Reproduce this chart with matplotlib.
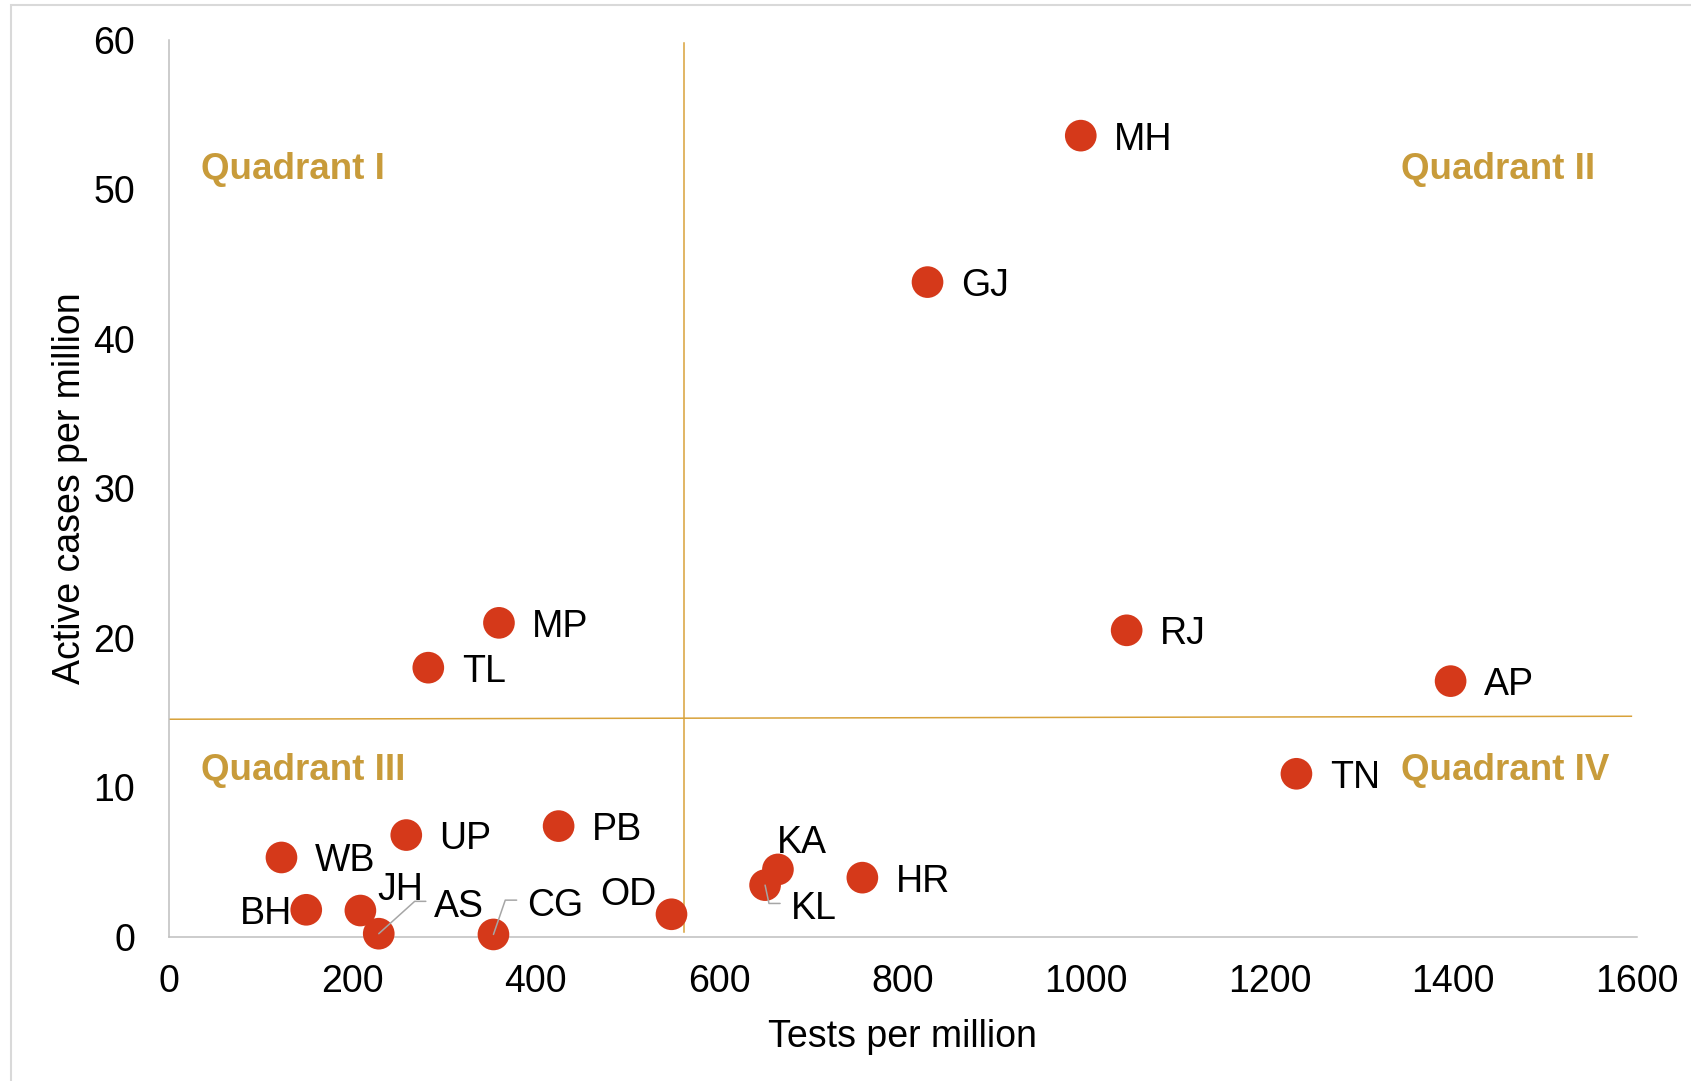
import matplotlib
matplotlib.use("Agg")
import matplotlib.pyplot as plt
from matplotlib.patches import Rectangle

plt.rcParams['font.family'] = ['Liberation Sans', 'DejaVu Sans']

# data
states = ["MH", "GJ", "RJ", "AP", "TN", "MP", "TL", "PB", "UP", "WB",
          "BH", "JH", "AS", "CG", "OD", "KA", "KL", "HR"]
tests_per_million = [994, 827, 1044, 1397, 1229, 360, 283, 425, 259, 123,
                     150, 209, 229, 354, 548, 664, 650, 756]
active_per_million = [53.6, 43.8, 20.5, 17.1, 10.9, 21.0, 18.0, 7.4, 6.8, 5.3,
                      1.8, 1.75, 0.2, 0.15, 1.5, 4.5, 3.45, 3.95]

# quadrant split (drawn lines)
x_split = 562
y_split_left, y_split_right = 14.55, 14.75

quadrant_names = ["Quadrant I", "Quadrant II", "Quadrant III", "Quadrant IV"]
quadrant_x = [35, 1343, 35, 1343]
quadrant_y = [51.6, 51.6, 11.4, 11.4]

# label placement: (dx, dy in points, ha)
label_pos = {
    "BH": (-10.5, 0, "right"),
    "JH": (12, 17.5, "left"),
    "AS": (40, 22, "left"),
    "CG": (24, 23.6, "left"),
    "OD": (-10.8, 16.6, "right"),
    "KA": (-1, 22, "left"),
    "KL": (18.5, -14.4, "left"),
}
# leader lines: text end point (points) and angle of the segment at the dot
leaders = {
    "AS": ((33.9, 23.3), 42),
    "CG": ((16.7, 24.7), 71),
    "KL": ((10.8, -13.2), -78),
}

dot_color = "#D5391A"
gold = "#C89B3A"
line_gold = "#D8A23A"
grey = "#BFBFBF"
fs = 27

fig = plt.figure(figsize=(16.91, 10.81), dpi=100)
ax = fig.add_axes([0.0997, 0.1335, 0.8683, 0.8295])

# outer frame
fig.patches.append(Rectangle((11 / 1691, -0.1), 1.2, 1.1 - 5 / 1081,
                             transform=fig.transFigure, fill=False,
                             edgecolor="#D9D9D9", linewidth=1.5))

ax.plot([x_split, x_split], [0.3, 59.8], color=line_gold, lw=1.1, zorder=1)
ax.plot([0, 1594], [y_split_left, y_split_right], color=line_gold, lw=1.1, zorder=1)

ax.scatter(tests_per_million, active_per_million, s=520, color=dot_color,
           edgecolors="none", zorder=3, clip_on=False)

for name, x, y in zip(states, tests_per_million, active_per_million):
    dx, dy, ha = label_pos.get(name, (24, 0, "left"))
    ax.annotate(name, (x, y), xytext=(dx, dy), textcoords="offset points",
                ha=ha, va="center_baseline", fontsize=fs, color="black", zorder=4)
    if name in leaders:
        (lx, ly), ang = leaders[name]
        ax.annotate("", xy=(x, y), xytext=(lx, ly), textcoords="offset points",
                    arrowprops=dict(arrowstyle="-", color="#A6A6A6", lw=1.1,
                                    shrinkA=0, shrinkB=0,
                                    connectionstyle=f"angle,angleA=0,angleB={ang},rad=0"),
                    zorder=4)

for name, qx, qy in zip(quadrant_names, quadrant_x, quadrant_y):
    ax.text(qx, qy, name, color=gold, fontsize=26.5, fontweight="bold",
            ha="left", va="center_baseline")

ax.set_xlim(0, 1600)
ax.set_ylim(0, 60)
ax.set_xticks(range(0, 1601, 200))
ax.set_yticks(range(0, 61, 10))
ax.tick_params(length=0, labelsize=fs, colors="black")
ax.tick_params(axis="x", pad=20)
ax.tick_params(axis="y", pad=24)
for s in ["top", "right"]:
    ax.spines[s].set_visible(False)
for s in ["left", "bottom"]:
    ax.spines[s].set_color(grey)
    ax.spines[s].set_linewidth(1.1)

ax.set_xlabel("Tests per million", fontsize=fs, labelpad=13)
ax.set_ylabel("Active cases per million", fontsize=fs, labelpad=4)

plt.savefig("out.png", dpi=100)
